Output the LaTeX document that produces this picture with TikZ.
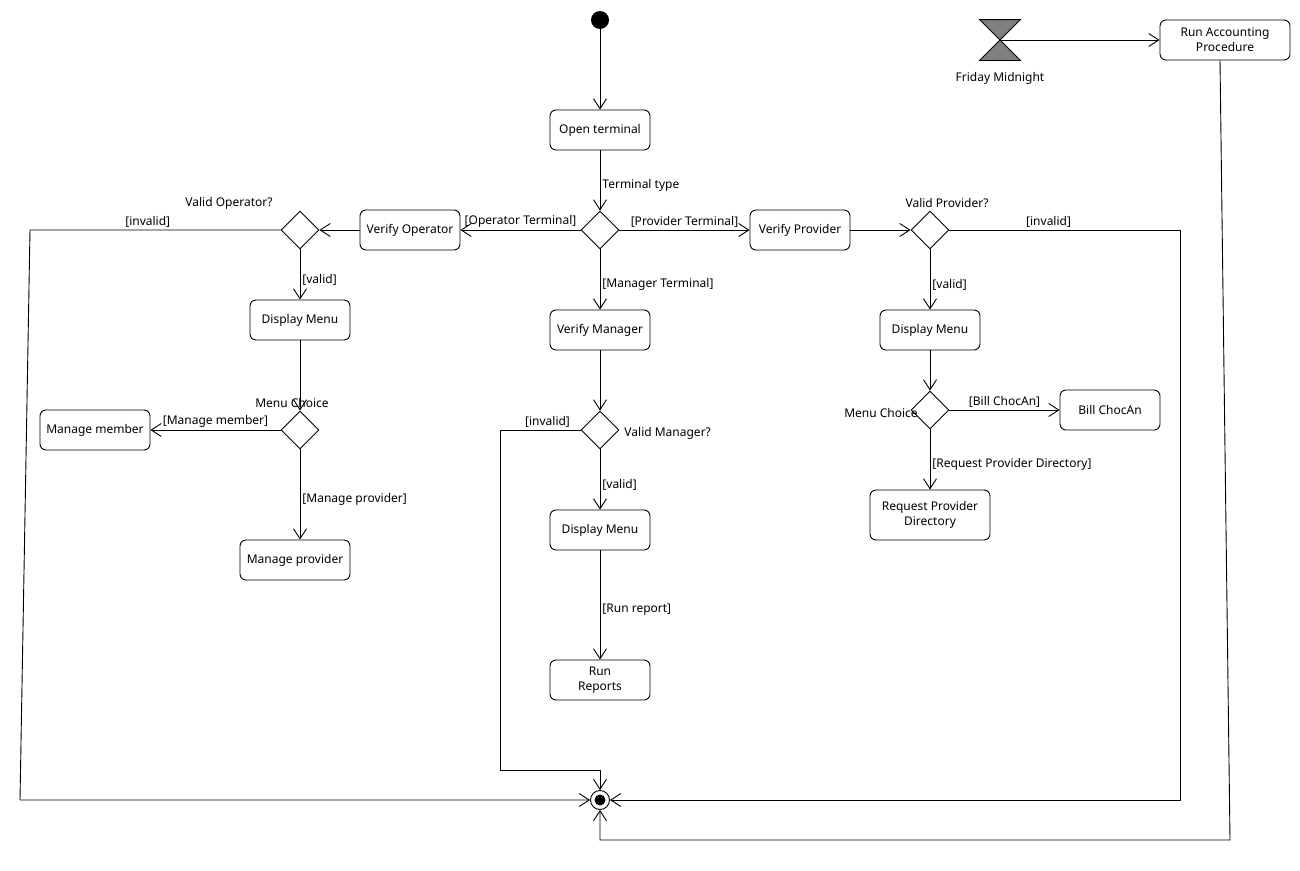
\documentclass[tikz,border=0pt]{standalone}
\usepackage{fontspec}
\setmainfont{Noto Sans}
\usetikzlibrary{arrows.meta,shapes.geometric}
\begin{document}
\begin{tikzpicture}[x=1pt,y=-1pt, line width=0.9pt,
  font=\fontsize{12}{15}\selectfont,
  act/.style={draw, rounded corners=6pt, minimum width=100pt, minimum height=40pt,
              align=center, inner sep=2pt},
  dec/.style={draw, diamond, minimum width=38pt, minimum height=38pt, inner sep=0pt},
  flow/.style={-{Straight Barb[length=10pt,width=13pt]}},
  lbl/.style={inner sep=2pt},
  side/.style={right, inner sep=2pt, yshift=-5pt}]
\useasboundingbox (0,0) rectangle (1300,870);

% start
\node[circle, fill, minimum size=18pt, inner sep=0pt] (init) at (600,20) {};
\node[act] (open) at (600,130) {Open terminal};
\node[dec] (dt) at (600,230) {};

% branch actions
\node[act] (vop) at (410,230) {Verify Operator};
\node[act] (vpr) at (800,230) {Verify Provider};
\node[act] (vma) at (600,330) {Verify Manager};

% operator branch
\node[dec] (dvo) at (300,230) {};
\node[lbl] (tvo) at (229,203) {Valid Operator?};
\node[act] (dml) at (300,320) {Display Menu};
\node[dec] (dcl) at (300,430) {};
\node[lbl] (tcl) at (292,403) {Menu Choice};
\node[act, minimum width=110pt] (mm) at (95,430) {Manage member};
\node[act, minimum width=110pt] (mp) at (295,560) {Manage provider};

% manager branch
\node[dec] (dvm) at (600,430) {};
\node[lbl, anchor=west] (tvm) at (622,433) {Valid Manager?};
\node[act] (dmm) at (600,530) {Display Menu};
\node[act] (rr) at (600,680) {Run\\Reports};

% provider branch
\node[dec] (dvp) at (930,230) {};
\node[lbl] (tvp) at (947,203) {Valid Provider?};
\node[act] (dmr) at (930,330) {Display Menu};
\node[dec] (dcr) at (930,410) {};
\node[lbl] (tcr) at (881,413) {Menu Choice};
\node[act] (bill) at (1110,410) {Bill ChocAn};
\node[act, minimum width=120pt, minimum height=50pt] (rpd) at (930,515) {Request Provider\\Directory};

% timed event
\node[minimum width=40pt, minimum height=40pt, inner sep=0pt] (hg) at (1000,40) {};
\filldraw[fill=gray, draw=black]
  (hg.north west) -- (hg.north east) -- (hg.south west) -- (hg.south east) -- cycle;
\node[lbl] (thg) at (1000,78) {Friday Midnight};
\node[act, minimum width=130pt] (rap) at (1225,40) {Run Accounting\\Procedure};

% final node
\node[circle, draw, fill=white, minimum size=19pt, inner sep=0pt] (fin) at (600,800) {};
\node[circle, fill, minimum size=11pt, inner sep=0pt] (fincore) at (fin) {};

% flows
\draw[flow] (init) -- (open);
\draw[flow] (open) -- node[side] {Terminal type} (dt);
\draw[flow] (dt) -- node[above, lbl] {[Operator Terminal]} (vop);
\draw[flow] (dt) -- node[above, lbl] {[Provider Terminal]} (vpr);
\draw[flow] (dt) -- node[side] {[Manager Terminal]} (vma);

\draw[flow] (vop) -- (dvo);
\draw[flow] (dvo) -- node[side] {[valid]} (dml);
\draw[flow] (dvo.west) -- node[above, lbl, pos=0.53] {[invalid]} (30,230) -- (20,800) -- (fin.west);
\draw[flow] (dml) -- (dcl);
\draw[flow] (dcl) -- node[above, lbl] {[Manage member]} (mm);
\draw[flow] (dcl.south) -- node[side] {[Manage provider]} (dcl.south |- mp.north);

\draw[flow] (vma) -- (dvm);
\draw[flow] (dvm) -- node[side] {[valid]} (dmm);
\draw[flow] (dvm.west) -- node[above, lbl, pos=0.41] {[invalid]} (500,430) -- (500,770) -- (600,770) -- (fin.north);
\draw[flow] (dmm) -- node[side] {[Run report]} (rr);

\draw[flow] (vpr) -- (dvp);
\draw[flow] (dvp) -- node[side] {[valid]} (dmr);
\draw[flow] (dvp.east) -- node[above, lbl, pos=0.43] {[invalid]} (1180,230) -- (1180,800) -- (fin.east);
\draw[flow] (dmr) -- (dcr);
\draw[flow] (dcr) -- node[above, lbl] {[Bill ChocAn]} (bill);
\draw[flow] (dcr) -- node[side] {[Request Provider Directory]} (rpd);

\draw[flow] (hg.center) -- (rap);
\draw[flow] ([xshift=-5pt]rap.south) -- (1230,840) -- (600,840) -- (fin.south);
\end{tikzpicture}
\end{document}
